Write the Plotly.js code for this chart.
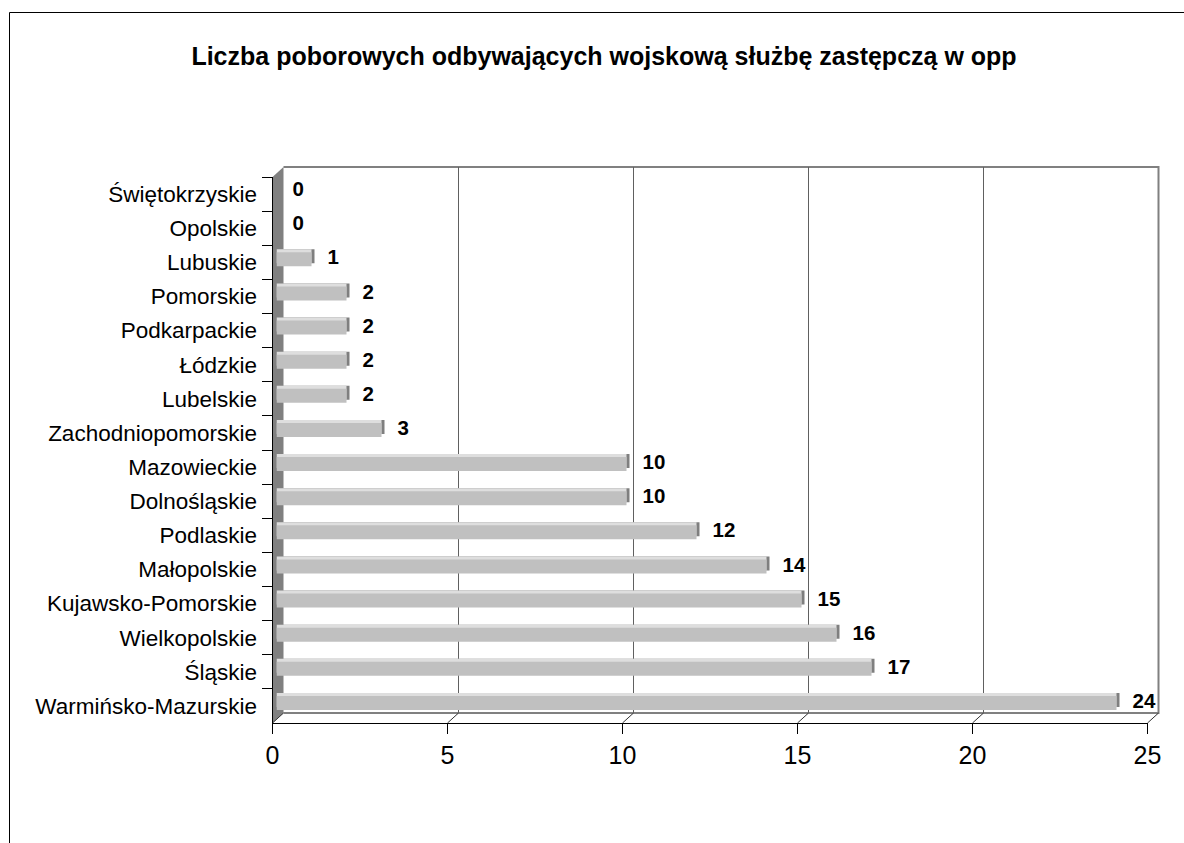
<!DOCTYPE html>
<html>
<head>
<meta charset="utf-8">
<script src="https://cdn.plot.ly/plotly-3.0.1.min.js"></script>
<style>html,body{margin:0;padding:0;background:#fff}#chart{width:1184px;height:843px}</style>
</head>
<body>
<div id="chart"></div>
<script>
// ---- data ----
const titleText = 'Liczba poborowych odbywających wojskową służbę zastępczą w opp';
const categories = ['Świętokrzyskie','Opolskie','Lubuskie','Pomorskie','Podkarpackie','Łódzkie','Lubelskie','Zachodniopomorskie','Mazowieckie','Dolnośląskie','Podlaskie','Małopolskie','Kujawsko-Pomorskie','Wielkopolskie','Śląskie','Warmińsko-Mazurskie'];
const values = [0,0,1,2,2,2,2,3,10,10,12,14,15,16,17,24];
const xTickValues = [0,5,10,15,20,25];

// ---- geometry (pixels) ----
const W = 1184, H = 843;
const FX0 = 272.5, FX1 = 1147.5;   // front axis x extent
const FY0 = 177, FY1 = 723;        // front axis y extent (top, bottom)
const DX = 11, DY = -10;           // depth offset for back wall
const X = px => px / W;
const Y = py => 1 - py / H;
const xdom = dx => [X(FX0 + dx), X(FX1 + dx)];
const ydom = dy => [Y(FY1 + dy), Y(FY0 + dy)];
const xr = [0, 25];
const yr = [categories.length - 0.5, -0.5];
const valToPx = v => FX0 + (v - xr[0]) / (xr[1] - xr[0]) * (FX1 - FX0);

const FONT = 'Liberation Sans, Arial, sans-serif';
const hidden = {showgrid:false, zeroline:false, showline:false, showticklabels:false, ticks:''};

const catY = (dx, dy, anchor) => Object.assign({}, hidden, {
  domain: ydom(dy), type:'category', categoryorder:'array', categoryarray:categories,
  range: yr, anchor: anchor, fixedrange:true
});
const valX = (dx, dy, anchor) => Object.assign({}, hidden, {
  domain: xdom(dx), range: xr, anchor: anchor, fixedrange:true
});

const traces = [
  // invisible reference trace on the front axes (holds categories)
  {type:'scatter', x:values, y:categories, mode:'markers', marker:{opacity:0}, xaxis:'x', yaxis:'y', hoverinfo:'skip', showlegend:false},
  // invisible trace so the back-wall subplot (gridlines) is drawn
  {type:'scatter', x:values, y:values.map(() => 0.5), mode:'markers', marker:{opacity:0}, xaxis:'x2', yaxis:'y2', hoverinfo:'skip', showlegend:false},
  // bar side (dark)
  {type:'bar', orientation:'h', x:values, y:categories, xaxis:'x3', yaxis:'y3',
   marker:{color:'#7f7f7f', line:{width:0}}, hoverinfo:'skip', showlegend:false},
  // bar top (light)
  {type:'bar', orientation:'h', x:values, y:categories, xaxis:'x4', yaxis:'y4',
   marker:{color:'#dedede', line:{width:0}}, hoverinfo:'skip', showlegend:false},
  // bar face
  {type:'bar', orientation:'h', x:values, y:categories, xaxis:'x5', yaxis:'y5',
   marker:{color:'#c0c0c0', line:{width:0}}, showlegend:false},
  // value labels
  {type:'scatter', mode:'markers+text', x:values, y:categories, text:values.map(String), xaxis:'x5', yaxis:'y5',
   textposition:'middle right', marker:{size:24, opacity:0}, cliponaxis:false,
   textfont:{family:FONT, size:20.5, color:'#000', weight:'bold'}, hoverinfo:'skip', showlegend:false}
];

// shapes: outer frame, walls, floor
const shapes = [];
shapes.push({type:'rect', xref:'paper', yref:'paper', x0:X(9.5), x1:X(1300), y0:Y(1000), y1:Y(12.5),
  line:{color:'#000', width:1}, fillcolor:'rgba(0,0,0,0)', layer:'below'});
// left wall
shapes.push({type:'path', xref:'paper', yref:'paper', layer:'below',
  path:`M ${X(FX0)} ${Y(FY0)} L ${X(FX0+DX)} ${Y(FY0+DY)} L ${X(FX0+DX)} ${Y(FY1+DY)} L ${X(FX0)} ${Y(FY1)} Z`,
  fillcolor:'#808080', line:{width:0}});
// back wall outline (top, right) and floor back edge
shapes.push({type:'path', xref:'paper', yref:'paper', layer:'below',
  path:`M ${X(FX0+DX)} ${Y(FY0+DY)} L ${X(FX1+DX)} ${Y(FY0+DY)} L ${X(FX1+DX)} ${Y(FY1+DY)} L ${X(FX0+DX)} ${Y(FY1+DY)}`,
  line:{color:'#808080', width:2}});
// floor diagonals at each tick
xTickValues.forEach(v => {
  const px = valToPx(v);
  shapes.push({type:'line', xref:'paper', yref:'paper', layer:'below',
    x0:X(px), y0:Y(FY1), x1:X(px+DX), y1:Y(FY1+DY), line:{color:'#333', width:1}});
});

const layout = {
  width:W, height:H, margin:{l:0,r:0,t:0,b:0,pad:0},
  paper_bgcolor:'#fff', plot_bgcolor:'rgba(0,0,0,0)',
  showlegend:false, bargap:0.59,
  font:{family:FONT, color:'#000'},
  title:{text:titleText, font:{family:FONT, size:25, color:'#000', weight:'bold'},
    xref:'paper', yref:'paper', x:X(604), xanchor:'center', y:Y(56), yanchor:'middle'},
  xaxis:{domain:xdom(0), range:xr, anchor:'y', tickvals:xTickValues, ticks:'outside', ticklen:10,
    tickcolor:'#000', tickwidth:1, showline:true, linecolor:'#000', linewidth:1,
    showgrid:false, zeroline:false, tickfont:{family:FONT, size:25, color:'#000'}, fixedrange:true},
  yaxis:{domain:ydom(0), type:'category', categoryorder:'array', categoryarray:categories, range:yr,
    anchor:'x', tickson:'boundaries', ticks:'outside', ticklen:10, tickcolor:'#000', tickwidth:1,
    ticklabelstandoff:10,
    showline:true, linecolor:'#000', linewidth:1, showgrid:false, zeroline:false,
    tickfont:{family:FONT, size:22.5, color:'#000'}, fixedrange:true},
  // back-wall gridlines
  xaxis2:Object.assign({}, hidden, {domain:xdom(DX), range:xr, anchor:'y2', showgrid:true,
    tickvals:xTickValues, gridcolor:'#606060', gridwidth:1, fixedrange:true}),
  yaxis2:Object.assign({}, hidden, {domain:ydom(DY), range:[0,1], anchor:'x2', fixedrange:true}),
  xaxis3:valX(7, -6, 'y3'), yaxis3:catY(7, -6, 'x3'),
  xaxis4:valX(4, -6, 'y4'), yaxis4:catY(4, -6, 'x4'),
  xaxis5:valX(4, -3, 'y5'), yaxis5:catY(4, -3, 'x5'),
  shapes:shapes
};

Plotly.newPlot('chart', traces, layout, {displayModeBar:false, staticPlot:true});
</script>
</body>
</html>
